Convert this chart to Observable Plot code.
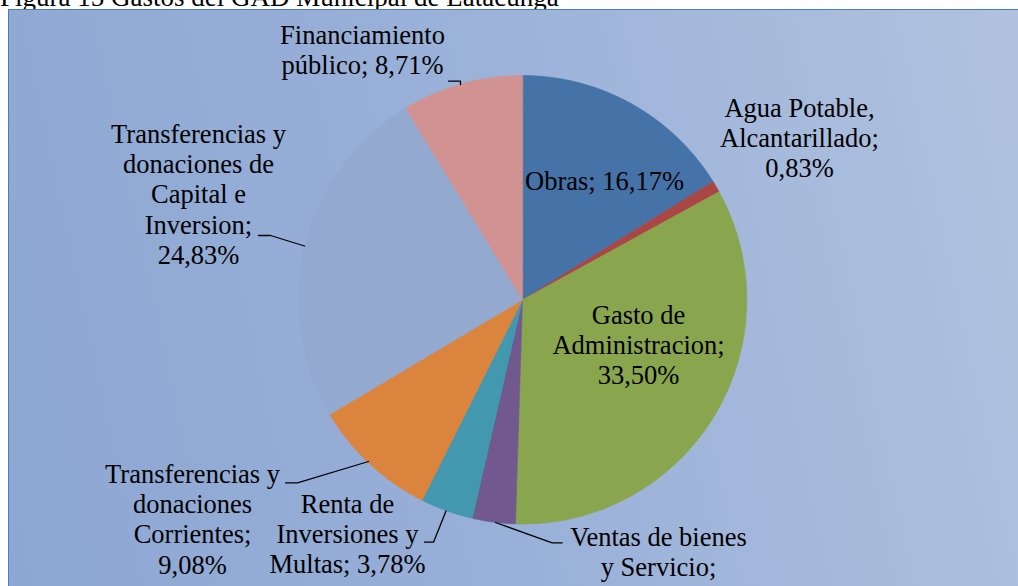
<!DOCTYPE html>
<html><head><meta charset="utf-8">
<script src="https://cdn.jsdelivr.net/npm/d3@7"></script>
<script src="https://cdn.jsdelivr.net/npm/@observablehq/plot@0.6"></script>
<style>
html,body{margin:0;padding:0;width:1018px;height:586px;overflow:hidden;background:#fff;}
#title{position:absolute;left:0;top:-16px;font-family:"Liberation Serif","Times New Roman",serif;font-size:27px;line-height:27px;color:#000;white-space:nowrap;}
#frame{position:absolute;left:8px;top:9px;width:1040px;height:620px;border-left:1.5px solid #4A7EBB;border-top:1.5px solid #4A7EBB;background:linear-gradient(78deg,#8CA7D3 0%,#99B0D8 45%,#A6BADC 75%,#B1C3DF 100%);}
#chart{position:absolute;left:0;top:0;}
#chart svg, #chart svg text{font-family:"Liberation Serif","Times New Roman",serif !important;}
</style></head><body>
<div id="title">Figura 15 Gastos del GAD Municipal de Latacunga</div>
<div id="frame"></div>
<div id="chart"></div>
<script>
// ---- data ----
const categories = [
  "Obras",
  "Agua Potable, Alcantarillado",
  "Gasto de Administracion",
  "Ventas de bienes y Servicio",
  "Renta de Inversiones y Multas",
  "Transferencias y donaciones Corrientes",
  "Transferencias y donaciones de Capital e Inversion",
  "Financiamiento público"
];
const values = [16.17, 0.83, 33.50, 3.10, 3.78, 9.08, 24.83, 8.71];
const colors = ["#4572A7", "#AA4643", "#89A54E", "#71588F", "#4198AF", "#DB843D", "#93A9CF", "#D19392"];

// ---- layout ----
const cx = 522, cy = 299.25, r = 224.25;
const fontSize = 26.5, lineHeight = 1.15;
const lineSpacing = fontSize * lineHeight;
// words per line for each label
const wordsPerLine = [[2], [2,1,1], [2,1,1], [3,2,1], [2,2,2], [2,1,1,1], [2,2,2,1,1], [1,2]];
// label anchor: x centre and first-line baseline
const labelPos = [[604,189],[799,116],[638,323],[658,545],[347,512],[192,482],[198,142],[362,43]];
const leaders = [
  [[448,80.7],[460,80.7],[460,84]],
  [[258,235],[270,235],[304,245.5]],
  [[285,482.3],[297,482.3],[368,461]],
  [[424,541.7],[433,541.7],[445.5,510.5]],
  [[561.7,542.3],[551.7,542.3],[495,522]]
];

const fmt = v => v.toFixed(2).replace(".", ",") + "%";
const pie = d3.pie().sort(null).value(d => d)(values);

const slicePts = pie.map((p, i) => {
  const pts = [{x: cx, y: cy}];
  const n = Math.max(2, Math.ceil((p.endAngle - p.startAngle) / (Math.PI / 360)));
  for (let k = 0; k <= n; k++) {
    const a = p.startAngle + (p.endAngle - p.startAngle) * k / n;
    pts.push({x: cx + r * Math.sin(a), y: cy - r * Math.cos(a)});
  }
  return pts;
});

const labels = categories.map((c, i) => {
  const words = (c + "; " + fmt(values[i])).split(" ");
  const lines = [];
  let k = 0;
  for (const w of wordsPerLine[i]) { lines.push(words.slice(k, k + w).join(" ")); k += w; }
  const [lx, ly] = labelPos[i];
  return {x: lx, y: ly + (lines.length - 1) * lineSpacing, text: lines.join("\n")};
});

const chart = Plot.plot({
  width: 1018, height: 586, margin: 0,
  x: {domain: [0, 1018], range: [0, 1018], axis: null},
  y: {domain: [0, 586], range: [0, 586], axis: null},
  style: {background: "transparent", fontFamily: "'Liberation Serif', 'Times New Roman', serif"},
  marks: [
    ...slicePts.map((pts, i) => Plot.line(pts, {x: "x", y: "y", fill: colors[i], stroke: colors[i], strokeWidth: 0.6, curve: "linear-closed"})),
    ...leaders.map(l => Plot.line(l.map(([x, y]) => ({x, y})), {x: "x", y: "y", stroke: "#000", strokeWidth: 1.3})),
    Plot.text(labels, {x: "x", y: "y", text: "text", fontSize, lineHeight, lineAnchor: "bottom", textAnchor: "middle", fill: "#000", fontFamily: "'Liberation Serif', 'Times New Roman', serif"})
  ]
});
document.getElementById("chart").appendChild(chart);
</script>
</body></html>
